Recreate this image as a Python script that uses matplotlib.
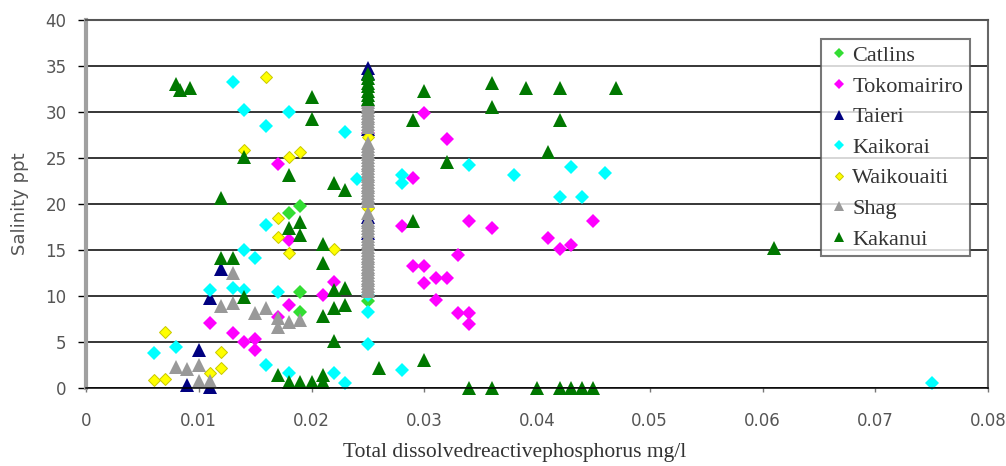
import matplotlib
matplotlib.use('Agg')
import matplotlib.pyplot as plt

# Salinity (ppt) against total dissolved reactive phosphorus (mg/l) per estuary

catlins_x = [0.018, 0.019, 0.019, 0.019, 0.025]
catlins_y = [19.0, 19.8, 10.4, 8.3, 9.5]

tokomairiro_x = [0.011, 0.013, 0.014, 0.015, 0.015, 0.017, 0.018, 0.017, 0.018, 0.021,
                 0.022, 0.025, 0.028, 0.029, 0.029, 0.030, 0.030, 0.031, 0.032, 0.031,
                 0.030, 0.032, 0.033, 0.033, 0.034, 0.034, 0.034, 0.036, 0.041, 0.042,
                 0.043, 0.045]
tokomairiro_y = [7.1, 6.0, 5.0, 5.3, 4.1, 24.3, 16.1, 7.7, 9.0, 10.1,
                 11.5, 27.7, 17.6, 22.8, 13.3, 13.3, 11.4, 12.0, 12.0, 9.6,
                 29.9, 27.1, 14.5, 8.2, 8.2, 7.0, 18.2, 17.4, 16.3, 15.1,
                 15.5, 18.2]

taieri_x = [0.009, 0.011, 0.010, 0.011, 0.012, 0.025, 0.025, 0.025, 0.025, 0.025]
taieri_y = [0.3, 0.1, 4.1, 9.8, 12.9, 34.8, 34.2, 28.2, 18.6, 16.8]

kaikorai_x = [0.006, 0.008, 0.011, 0.013, 0.014, 0.014, 0.015, 0.013, 0.014, 0.018,
              0.016, 0.023, 0.024, 0.016, 0.017, 0.025, 0.025, 0.025, 0.016, 0.018,
              0.022, 0.023, 0.028, 0.028, 0.028, 0.034, 0.038, 0.043, 0.046, 0.042,
              0.044, 0.075]
kaikorai_y = [3.8, 4.5, 10.6, 10.9, 10.6, 15.0, 14.1, 33.3, 30.2, 30.0,
              28.5, 27.8, 22.7, 17.7, 10.4, 10.1, 8.3, 4.8, 2.5, 1.6,
              1.6, 0.5, 2.0, 23.2, 22.3, 24.2, 23.2, 24.0, 23.4, 20.8,
              20.8, 0.5]

waikouaiti_x = [0.006, 0.007, 0.007, 0.011, 0.012, 0.012, 0.014, 0.016, 0.018, 0.019,
                0.017, 0.017, 0.018, 0.022, 0.025, 0.025]
waikouaiti_y = [0.9, 1.0, 6.1, 1.6, 2.2, 3.9, 25.9, 33.8, 25.1, 25.6,
                18.5, 16.4, 14.7, 15.1, 27.3, 19.6]

# Shag: scattered samples plus the many readings at the 0.025 detection limit
shag_x = [0.008, 0.009, 0.010, 0.010, 0.011, 0.013, 0.012, 0.013, 0.015, 0.016,
          0.017, 0.018, 0.019, 0.017]
shag_y = [2.3, 2.1, 2.5, 0.8, 0.8, 12.5, 8.9, 9.2, 8.2, 8.7,
          6.6, 7.2, 7.4, 7.6]
shag_limit_y = [10.5, 10.8, 11.1, 11.4, 11.7, 12.0, 12.3, 12.6, 12.9, 13.2,
                13.5, 13.8, 14.1, 14.4, 14.7, 15.0, 15.3, 15.6, 15.9, 16.2,
                16.5, 17.1, 17.4, 17.7, 18.0, 18.3, 19.0, 20.3, 20.6, 20.9,
                21.2, 21.5, 21.8, 22.1, 22.4, 22.7, 23.0, 23.3, 23.6, 23.9,
                24.2, 24.5, 24.8, 25.1, 25.4, 25.7, 26.0, 26.3, 26.6, 28.4,
                28.7, 29.0, 29.3, 29.6, 29.9, 30.2, 30.5, 30.8, 31.1, 31.3]
shag_x = shag_x + [0.025] * len(shag_limit_y)
shag_y = shag_y + shag_limit_y

kakanui_x = [0.008, 0.0083, 0.0092, 0.012, 0.012, 0.013, 0.014, 0.014, 0.018, 0.018,
             0.019, 0.019, 0.020, 0.020, 0.021, 0.021, 0.022, 0.023, 0.022, 0.023,
             0.022, 0.023, 0.021, 0.022, 0.026, 0.030, 0.017, 0.018, 0.019, 0.020,
             0.021, 0.021, 0.029, 0.030, 0.036, 0.036, 0.039, 0.042, 0.047, 0.042,
             0.041, 0.032, 0.029, 0.061, 0.034, 0.036, 0.040, 0.042, 0.043, 0.044,
             0.045, 0.025, 0.025, 0.025, 0.025, 0.025, 0.025, 0.025]
kakanui_y = [33.0, 32.4, 32.6, 20.6, 14.1, 14.1, 25.1, 9.9, 23.2, 17.4,
             18.0, 16.6, 31.6, 29.2, 15.7, 13.6, 22.3, 21.5, 10.6, 10.9,
             8.7, 9.0, 7.8, 5.1, 2.2, 3.0, 1.4, 0.7, 0.6, 0.6,
             1.4, 0.6, 29.1, 32.3, 33.2, 30.5, 32.6, 32.6, 32.6, 29.1,
             25.6, 24.6, 18.1, 15.2, 0.0, 0.0, 0.0, 0.0, 0.0, 0.0,
             0.0, 31.4, 31.9, 32.3, 32.8, 33.2, 33.7, 34.1]

fig = plt.figure(figsize=(10.06, 4.66), dpi=100)
ax = fig.add_axes([86 / 1006, 78 / 466, 902 / 1006, 368 / 466])

dia = dict(ls='none', marker='D', ms=6.8, mew=0, clip_on=False)
tri = dict(ls='none', marker='^', ms=9.5, mew=0, clip_on=False)
ax.plot(catlins_x, catlins_y, color='#33dd33', label='Catlins', **dia)
ax.plot(tokomairiro_x, tokomairiro_y, color='#ff00ff', label='Tokomairiro', **dia)
ax.plot(taieri_x, taieri_y, color='#000080', label='Taieri', **tri)
ax.plot(kaikorai_x, kaikorai_y, color='#00ffff', label='Kaikorai', **dia)
ax.plot(waikouaiti_x, waikouaiti_y, ls='none', marker='D', ms=6.5, color='#ffff00',
        mec='#c8c800', mew=0.7, clip_on=False, label='Waikouaiti')
ax.plot(shag_x, shag_y, color='#999999', label='Shag', **tri)
ax.plot(kakanui_x, kakanui_y, color='#007800', label='Kakanui', **tri)

ax.set_xlim(0, 0.08)
ax.set_ylim(0, 40)
ax.set_xticks([0, 0.01, 0.02, 0.03, 0.04, 0.05, 0.06, 0.07, 0.08])
ax.set_xticklabels(['0', '0.01', '0.02', '0.03', '0.04', '0.05', '0.06', '0.07', '0.08'])
ax.set_yticks(range(0, 41, 5))
ax.yaxis.grid(True, color='black', lw=1.1)
ax.set_axisbelow(True)

ax.tick_params(axis='y', length=6, width=1, color='black', pad=8,
               labelsize=12, labelcolor='#555555')
ax.tick_params(axis='x', length=3, width=1, color='#777777', pad=14,
               labelsize=12, labelcolor='#555555')

ax.spines['left'].set_color('#a0a0a0')
ax.spines['left'].set_linewidth(3)
ax.spines['right'].set_color('#666666')
ax.spines['right'].set_linewidth(1.5)
ax.spines['top'].set_color('#555555')
ax.spines['top'].set_linewidth(1.5)
ax.spines['bottom'].set_color('black')
ax.spines['bottom'].set_linewidth(1.1)

ax.set_ylabel('Salinity ppt', fontsize=13, color='#555555', va='center')
ax.yaxis.set_label_coords(-0.073, 0.5)
ax.set_xlabel('Total dissolvedreactivephosphorus mg/l', fontsize=15.5,
              family='Liberation Serif', color='#333333')
ax.xaxis.set_label_coords((515 - 86) / 902, -0.15)

leg = ax.legend(loc='upper right', bbox_to_anchor=(970 / 1006, 1 - 39 / 466),
                bbox_transform=fig.transFigure, borderaxespad=0, fancybox=False,
                prop={'family': 'Liberation Serif', 'size': 16}, labelspacing=0.45,
                handlelength=1.0, handletextpad=0.1, borderpad=0.3, markerscale=0.7)
leg.get_frame().set_edgecolor('#555555')
leg.get_frame().set_linewidth(1.5)
for t in leg.get_texts():
    t.set_color('#333333')

fig.savefig('out.png', dpi=100)
